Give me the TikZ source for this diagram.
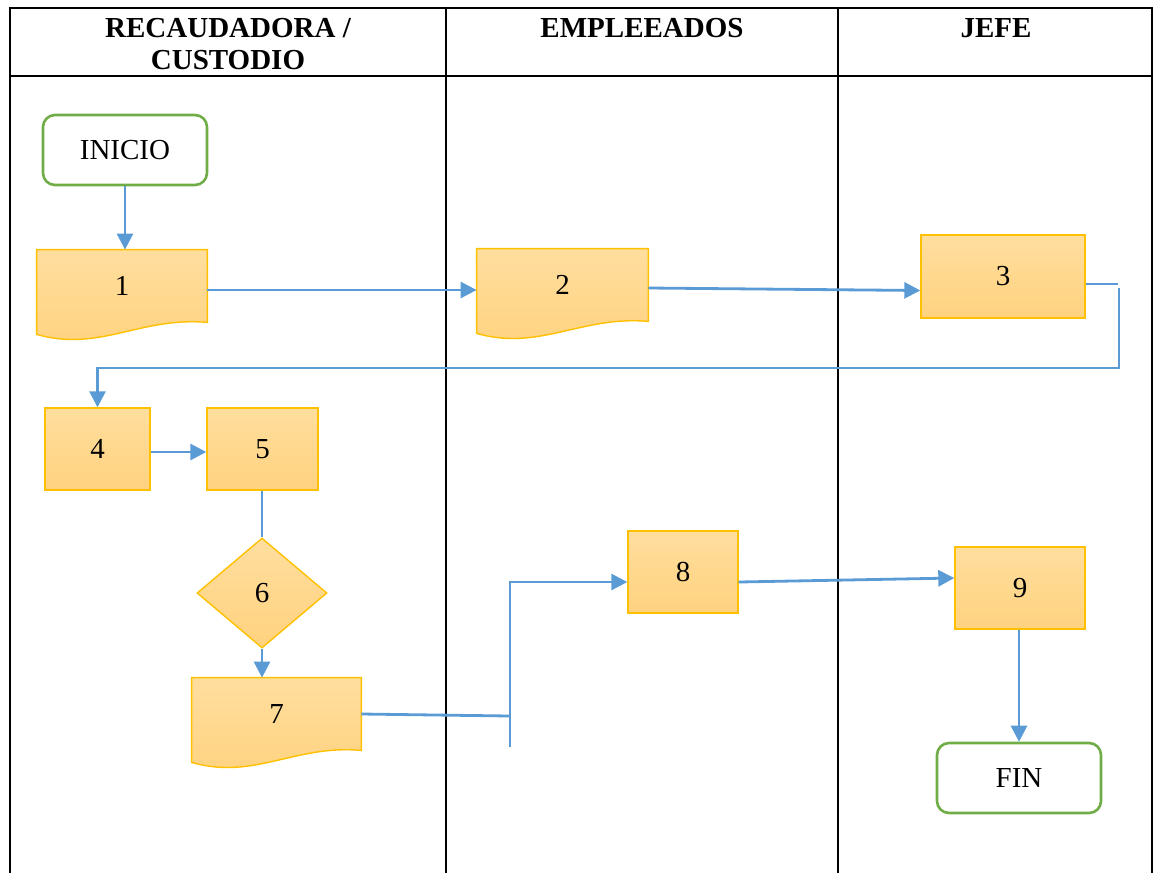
\documentclass[tikz,border=0pt]{standalone}
\usepackage{fontspec}
\setmainfont{Liberation Serif}
\usetikzlibrary{arrows.meta,shapes.geometric,calc,backgrounds}
\definecolor{oro}{HTML}{FFC000}
\definecolor{claro}{HTML}{FFDE9E}
\definecolor{oscuro}{HTML}{FFD27F}
\definecolor{azul}{HTML}{5B9BD5}
\definecolor{verde}{HTML}{70AD47}
\tikzset{
  terminal/.style={draw=verde, line width=1.3pt, rounded corners=6pt, fill=white,
    minimum width=82pt, minimum height=35pt},
  proceso/.style={draw=oro, line width=0.7pt, top color=claro, bottom color=oscuro},
  documento/.style={minimum height=36pt, inner sep=0pt},
  decision/.style={diamond, draw=oro, line width=0.7pt, top color=claro, bottom color=oscuro,
    minimum width=65pt, minimum height=55pt, inner sep=0pt},
  flecha/.style={azul, line width=1.4pt},
  titulo/.style={font=\fontsize{14.5}{16}\selectfont\bfseries, align=center}
}
\begin{document}
\begin{tikzpicture}[x=0.5pt,y=-0.5pt,>={Triangle[length=8pt,width=8pt]},
    font=\fontsize{14.5}{17}\selectfont]
          \useasboundingbox (0,0) rectangle (1154,873);
          %%% the table with its three lanes
          \draw[line width=0.9pt] (10,873) -- (10,8) -- (1152,8) -- (1152,873);
          \draw[line width=0.9pt] (10,76) -- (1152,76);
          \draw[line width=0.9pt] (446,8) -- (446,873);
          \draw[line width=0.9pt] (838,8) -- (838,873);
          \node[titulo] (lane1) at (228,44) {RECAUDADORA /\\CUSTODIO};
          \node[titulo] (lane2) at (642,28) {EMPLEEADOS};
          \node[titulo] (lane3) at (996,28) {JEFE};
          %%% the steps
          \node[terminal] (inicio) at (125,150) {INICIO};
          \node[documento, minimum width=85pt] (p1) at (122,286) {1};
          \node[documento, minimum width=85.5pt] (p2) at (562.5,285) {2};
          \node[proceso, minimum width=82pt, minimum height=41.5pt] (p3) at (1003,276.5) {3};
          \node[proceso, minimum width=52.5pt, minimum height=41pt] (p4) at (97.5,449) {4};
          \node[proceso, minimum width=55.5pt, minimum height=41pt] (p5) at (262.5,449) {5};
          \node[decision] (p6) at (262,593) {6};
          \node[documento, minimum width=84.5pt] (p7) at (276.5,714) {7};
          \node[proceso, minimum width=55pt, minimum height=41pt] (p8) at (683,572) {8};
          \node[proceso, minimum width=65pt, minimum height=41pt] (p9) at (1020,588) {9};
          \node[terminal] (fin) at (1019,778) {FIN};
          % the wavy document shapes go behind their numbers
          \begin{pgfonlayer}{background}
          \draw[proceso] (p1.north west) -- (p1.north east) -- (p1.south east)
            .. controls +(-67,-6) and +(63,18) .. ($(p1.south west)+(0,12)$) -- cycle;
          \draw[proceso] (p2.north west) -- (p2.north east) -- (p2.south east)
            .. controls +(-67,-6) and +(63,18) .. ($(p2.south west)+(0,12)$) -- cycle;
          \draw[proceso] (p7.north west) -- (p7.north east) -- (p7.south east)
            .. controls +(-67,-6) and +(63,18) .. ($(p7.south west)+(0,12)$) -- cycle;
          \end{pgfonlayer}
          %%% the connectors
          \coordinate (c3fin) at (1118,284);
          \coordinate (c3ini) at (1119,288);
          \coordinate (c3baja) at (1119,368);
          \coordinate (c7fin) at (510,716);
          \coordinate (c7ini) at (510,747);
          \coordinate (c7sube) at (510,582);
          \draw[flecha,->] (inicio.south) -- (inicio.south |- p1.north);
          \draw[flecha,->] ([yshift=-2pt]p1.east) -- ([yshift=-2pt]p1.east -| p2.west);
          \draw[flecha,->] ([yshift=-1.5pt]p2.east) -- ([yshift=-7pt]p3.west);
          \draw[flecha] ([yshift=-3.75pt]p3.east) -- (c3fin);
          \draw[flecha,->] (c3ini) -- (c3baja) -| (p4.north);
          \draw[flecha,->] ([yshift=-1.5pt]p4.east) -- ([yshift=-1.5pt]p5.west);
          \draw[flecha] (p6.north |- p5.south) -- (p6.north);
          \draw[flecha,->] (p6.south) -- (p6.south |- p7.north);
          \draw[flecha] (p7.east) -- (c7fin);
          \draw[flecha,->] (c7ini) -- (c7sube) -- (c7sube -| p8.west);
          \draw[flecha,->] ([yshift=-5pt]p8.east) -- ([yshift=5pt]p9.west);
          \draw[flecha,->] (fin.north |- p9.south) -- (fin.north);
          \end{tikzpicture}
\end{document}
